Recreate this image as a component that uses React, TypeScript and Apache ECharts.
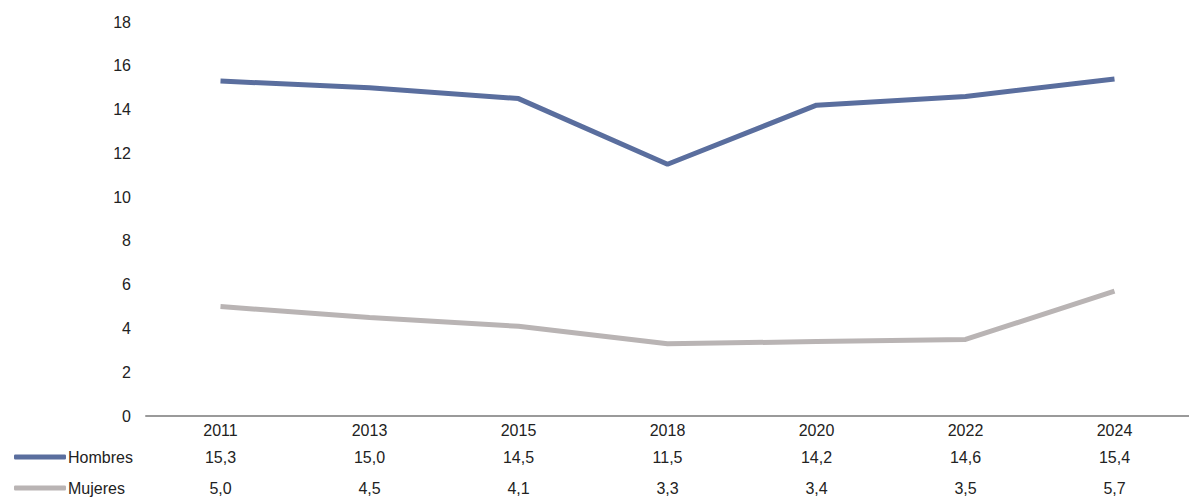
import React, { useEffect, useRef } from "react";
import * as echarts from "echarts";

const years = ["2011", "2013", "2015", "2018", "2020", "2022", "2024"];
const hombres = [15.3, 15.0, 14.5, 11.5, 14.2, 14.6, 15.4];
const mujeres = [5.0, 4.5, 4.1, 3.3, 3.4, 3.5, 5.7];
const yTicks = { min: 0, max: 18, interval: 2 };

const fmt = (v: number) => v.toFixed(1).replace(".", ",");
const FONT = "'Liberation Sans', Arial, sans-serif";
const TEXT = "#222222";
const BLUE = "#5a6e9e";
const GREY = "#b9b4b4";
const FS = 16;

export default function App() {
  const ref = useRef<HTMLDivElement>(null);
  useEffect(() => {
    document.body.style.margin = "0";
    const chart = echarts.init(ref.current!, undefined, { renderer: "svg" });
    const catAxis = (data: string[], offset: number, showLine: boolean) => ({
      type: "category",
      data,
      position: "bottom",
      offset,
      boundaryGap: true,
      axisTick: { show: false },
      axisLine: { show: showLine, lineStyle: { color: "#9a9a9a", width: 2 } },
      axisLabel: { color: TEXT, fontSize: FS, fontFamily: FONT, margin: 6 },
      splitLine: { show: false },
    });
    const legendOf = (name: string, top: number) => ({
      orient: "horizontal",
      left: 9,
      top,
      itemWidth: 52,
      itemHeight: 5,
      icon: "roundRect",
      textStyle: { color: TEXT, fontSize: FS, fontFamily: FONT, padding: [0, 0, 0, -3] },
      data: [name],
    });
    chart.setOption({
      animation: false,
      backgroundColor: "#ffffff",
      textStyle: { fontFamily: FONT },
      grid: { left: 146, top: 22, width: 1059, height: 394 },
      legend: [legendOf("Hombres", 444), legendOf("Mujeres", 475)],
      xAxis: [
        catAxis(years, 0, true),
        catAxis(hombres.map(fmt), 27, false),
        catAxis(mujeres.map(fmt), 58, false),
      ],
      yAxis: {
        type: "value",
        min: yTicks.min,
        max: yTicks.max,
        interval: yTicks.interval,
        axisLine: { show: false },
        axisTick: { show: false },
        splitLine: { show: false },
        axisLabel: { color: TEXT, fontSize: FS, fontFamily: FONT, margin: 15 },
      },
      series: [
        {
          name: "Hombres",
          type: "line",
          data: hombres,
          symbol: "none",
          color: BLUE,
          lineStyle: { color: BLUE, width: 5 },
        },
        {
          name: "Mujeres",
          type: "line",
          data: mujeres,
          symbol: "none",
          color: GREY,
          lineStyle: { color: GREY, width: 5 },
        },
      ],
    });
    return () => chart.dispose();
  }, []);
  return <div ref={ref} style={{ width: 1189, height: 497 }} />;
}
